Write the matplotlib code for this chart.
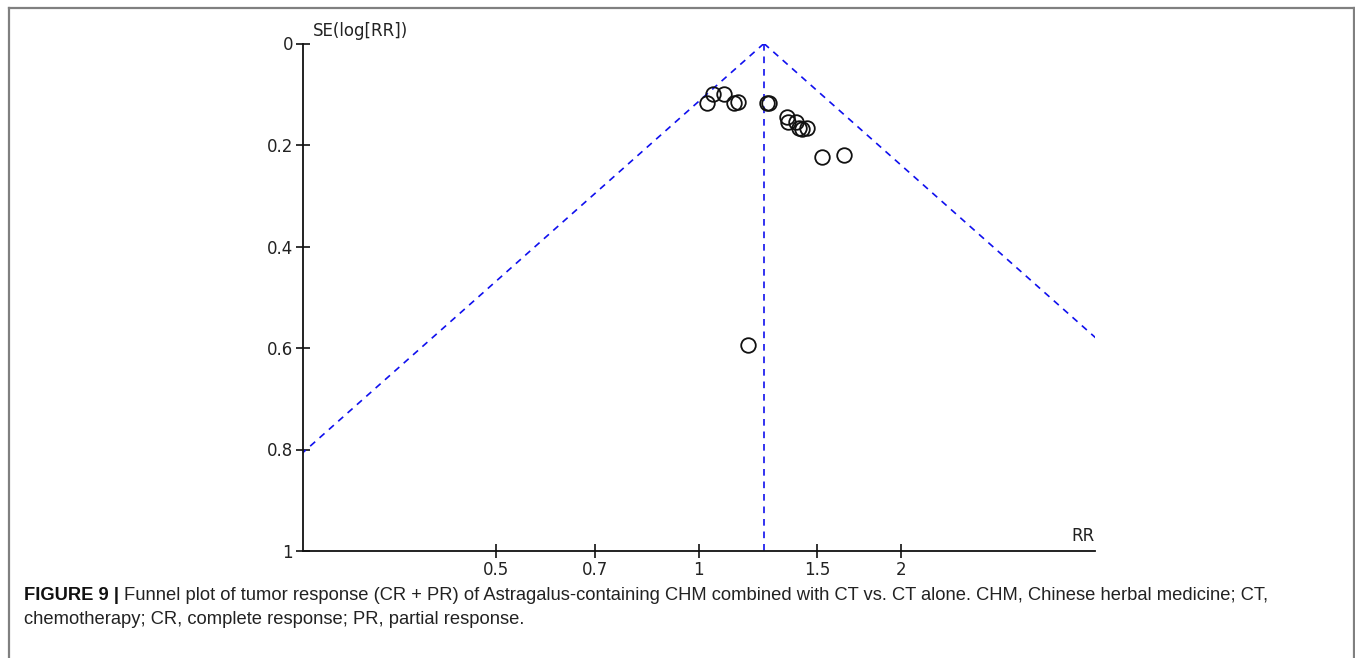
import numpy as np
import matplotlib
matplotlib.use("Agg")
import matplotlib.pyplot as plt
from matplotlib.lines import Line2D

# ---- data ----
rr_values = [1.028, 1.052, 1.092, 1.130, 1.146, 1.263, 1.273, 1.352, 1.357,
             1.394, 1.411, 1.424, 1.451, 1.528, 1.648, 1.186]
se_values = [0.118, 0.100, 0.100, 0.118, 0.115, 0.117, 0.117, 0.144, 0.154,
             0.155, 0.166, 0.169, 0.167, 0.223, 0.220, 0.594]
pooled_rr = 1.251
x_ticks = [0.5, 0.7, 1, 1.5, 2]
x_tick_labels = ["0.5", "0.7", "1", "1.5", "2"]
y_ticks = [0, 0.2, 0.4, 0.6, 0.8, 1]
y_tick_labels = ["0", "0.2", "0.4", "0.6", "0.8", "1"]
x_label = "RR"
y_label = "SE(log[RR])"
caption_bold = "FIGURE 9 | "
caption_line1 = ("Funnel plot of tumor response (CR + PR) of Astragalus-containing CHM "
                 "combined with CT vs. CT alone. CHM, Chinese herbal medicine; CT,")
caption_line2 = "chemotherapy; CR, complete response; PR, partial response."

W, H = 1355, 658
fig = plt.figure(figsize=(W / 100, H / 100), dpi=100)
fig.patch.set_facecolor("white")

def fx(px):
    return px / W
def fy(py):
    return 1 - py / H

# outer frame
frame_col = "#808080"
for (x0, y0, x1, y1) in [(9, 8, 1354, 8), (9, 8, 9, 658), (1354, 8, 1354, 658)]:
    fig.add_artist(Line2D([fx(x0), fx(x1)], [fy(y0), fy(y1)], color=frame_col,
                          lw=1.6, transform=fig.transFigure))

left, right, top, bottom = 302.7, 1095, 43.5, 551
ax = fig.add_axes([fx(left), fy(bottom), fx(right) - fx(left), (bottom - top) / H])
ax.set_xscale("log")
ax.set_xlim(0.2575, 3.89)
ax.set_ylim(1, 0)

ax.spines["top"].set_visible(False)
ax.spines["right"].set_visible(False)
for s in ["left", "bottom"]:
    ax.spines[s].set_linewidth(1.3)
    ax.spines[s].set_color("#111111")

ax.xaxis.set_minor_locator(matplotlib.ticker.NullLocator())
ax.set_xticks(x_ticks)
ax.set_xticklabels(x_tick_labels)
ax.set_yticks(y_ticks)
ax.set_yticklabels(y_tick_labels)
ax.tick_params(axis="both", direction="inout", length=10, width=1.2,
               labelsize=12, colors="#111111", labelcolor="#222222")
ax.tick_params(axis="x", pad=2)
ax.tick_params(axis="y", pad=2)

# funnel
se_line = np.array([0.0, 1.0])
lo = np.exp(np.log(pooled_rr) - 1.96 * se_line)
hi = np.exp(np.log(pooled_rr) + 1.96 * se_line)
dash_kw = dict(color="#1010ee", lw=1.2, ls=(0, (4, 3.5)))
ax.plot(lo, se_line, **dash_kw)
ax.plot(hi, se_line, **dash_kw)
ax.plot([pooled_rr, pooled_rr], [0, 1], **dash_kw)

ax.plot(rr_values, se_values, ls="none", marker="o", ms=10.5,
        mfc="none", mec="#111111", mew=1.3, clip_on=False)

# axis labels
ax.text(0.013, 1.006, y_label, transform=ax.transAxes, ha="left", va="bottom",
        fontsize=12, color="#222222")
ax.text(1.0, 0.012, x_label, transform=ax.transAxes, ha="right", va="bottom",
        fontsize=12, color="#222222")

# caption
cap_font = ["Liberation Sans", "DejaVu Sans"]
t1 = fig.text(fx(24), fy(596), caption_bold, fontsize=13.2, fontweight="bold",
              family=cap_font, va="center", ha="left", color="#111111")
ax.annotate(caption_line1, xy=(1, 0.5), xycoords=t1, va="center", ha="left",
            fontsize=13.2, family=cap_font, color="#222222", annotation_clip=False)
fig.text(fx(24), fy(620), caption_line2, fontsize=13.2, family=cap_font,
         va="center", ha="left", color="#222222")

fig.savefig("out.png", dpi=100, facecolor="white")
